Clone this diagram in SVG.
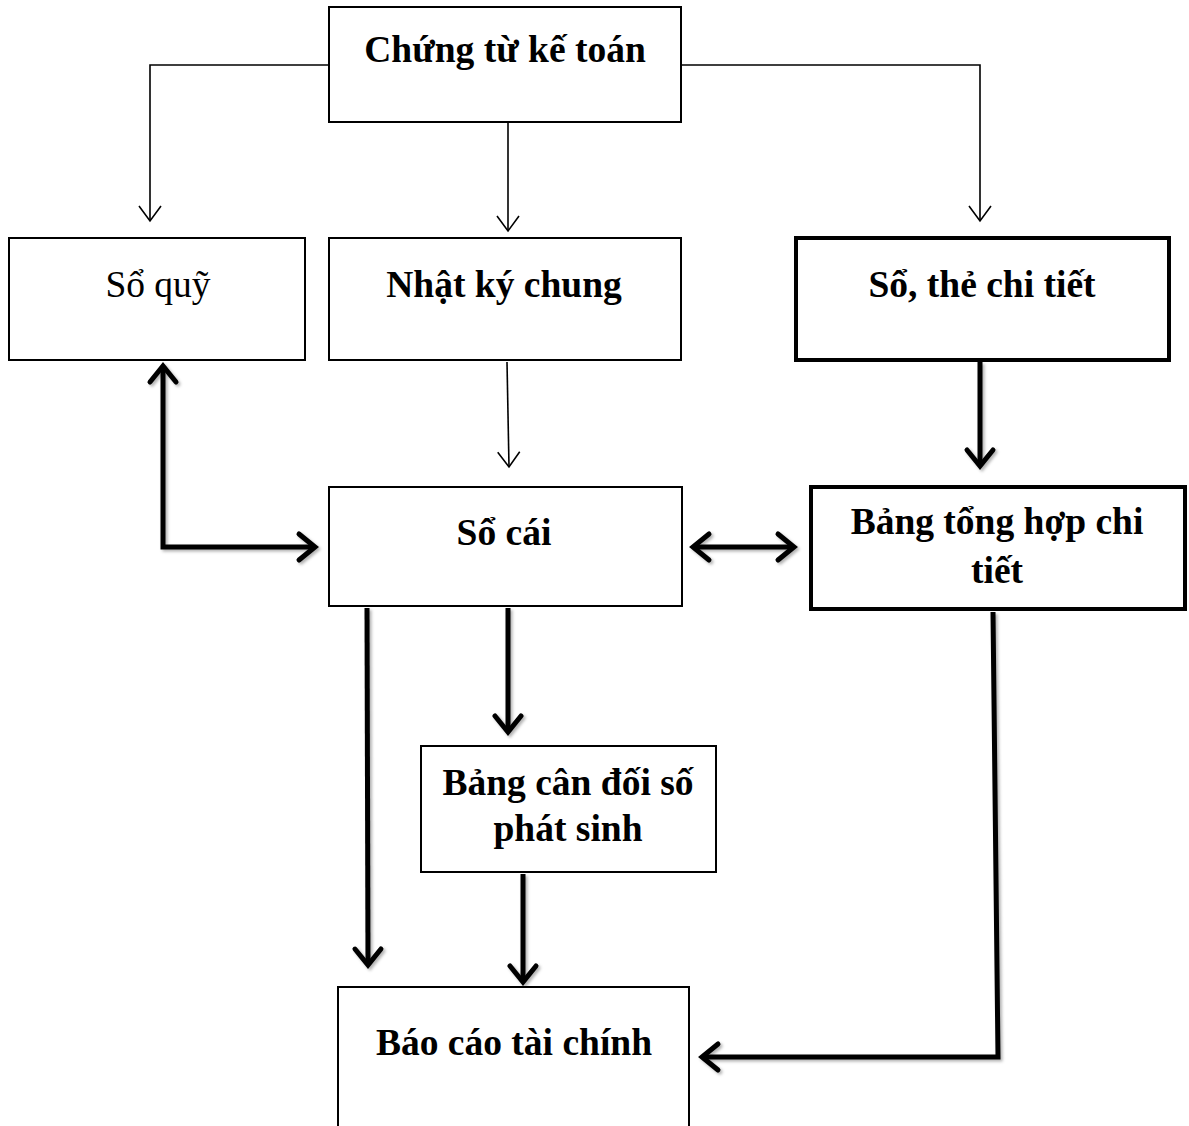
<svg xmlns="http://www.w3.org/2000/svg" width="1189" height="1126" viewBox="0 0 1189 1126">
<defs>
<style>
.box{fill:#fff;stroke:#000;stroke-width:2}
.bold{fill:#fff;stroke:#000;stroke-width:4}
.t{font-family:"Liberation Serif","Times New Roman",serif;font-size:37.5px;fill:#000;text-anchor:middle}
.b{font-weight:bold}
.thin{fill:none;stroke:#000;stroke-width:1.6}
.thick{fill:none;stroke:#000;stroke-width:5;stroke-linejoin:miter}
</style>
<marker id="ah" markerUnits="userSpaceOnUse" viewBox="-20 -15 24 30" refX="0" refY="0" markerWidth="24" markerHeight="30" orient="auto-start-reverse" overflow="visible">
<path d="M-15,-11 L0,0 L-15,11" fill="none" stroke="#000" stroke-width="1.6"/>
</marker>
<marker id="ahb" markerUnits="userSpaceOnUse" viewBox="-20 -16 24 32" refX="0" refY="0" markerWidth="24" markerHeight="32" orient="auto-start-reverse" overflow="visible">
<path d="M-16,-13 L0,0 L-16,13" fill="none" stroke="#000" stroke-width="5" stroke-linecap="round" stroke-linejoin="miter"/>
</marker>
<filter id="sh" x="-10%" y="-10%" width="120%" height="120%">
<feDropShadow dx="2" dy="2" stdDeviation="1.5" flood-color="#000" flood-opacity="0.3"/>
</filter>
</defs>
<rect width="1189" height="1126" fill="#fff"/>
<g id="connectors">
<path class="thin" d="M328,65 H150 V221" marker-end="url(#ah)"/>
<path class="thin" d="M508,122 V231" marker-end="url(#ah)"/>
<path class="thin" d="M682,65 H980 V221" marker-end="url(#ah)"/>
<path class="thin" d="M507,362 L509,467" marker-end="url(#ah)"/>
<g filter="url(#sh)">
<path class="thick" d="M163,366 V547 H315" marker-start="url(#ahb)" marker-end="url(#ahb)"/>
<path class="thick" d="M693,547 H794" marker-start="url(#ahb)" marker-end="url(#ahb)"/>
<path class="thick" d="M980,362 V466" marker-end="url(#ahb)"/>
<path class="thick" d="M367,608 L368,965" marker-end="url(#ahb)"/>
<path class="thick" d="M508,608 V732" marker-end="url(#ahb)"/>
<path class="thick" d="M523,874 V982" marker-end="url(#ahb)"/>
<path class="thick" d="M993,612 L998,1057 H702" marker-end="url(#ahb)"/>
</g>
</g>
<g id="chung-tu">
<rect class="box" x="329" y="7" width="352" height="115"/>
<text class="t b" x="505" y="62">Chứng từ kế toán</text>
</g>
<g id="so-quy">
<rect class="box" x="9" y="238" width="296" height="122"/>
<text class="t" x="158" y="297">Sổ quỹ</text>
</g>
<g id="nhat-ky-chung">
<rect class="box" x="329" y="238" width="352" height="122"/>
<text class="t b" x="504" y="297">Nhật ký chung</text>
</g>
<g id="so-the-chi-tiet">
<rect class="bold" x="796" y="238" width="373" height="122"/>
<text class="t b" x="982" y="297">Sổ, thẻ chi tiết</text>
</g>
<g id="so-cai">
<rect class="box" x="329" y="487" width="353" height="119"/>
<text class="t b" x="504" y="545">Sổ cái</text>
</g>
<g id="bang-tong-hop">
<rect class="bold" x="811" y="487" width="374" height="122"/>
<text class="t b" x="997" y="534">Bảng tổng hợp chi</text>
<text class="t b" x="997" y="583">tiết</text>
</g>
<g id="bang-can-doi">
<rect class="box" x="421" y="746" width="295" height="126"/>
<text class="t b" x="568" y="795">Bảng cân đối số</text>
<text class="t b" x="568" y="841">phát sinh</text>
</g>
<g id="bao-cao">
<rect class="box" x="338" y="987" width="351" height="160"/>
<text class="t b" x="514" y="1055">Báo cáo tài chính</text>
</g>
</svg>
